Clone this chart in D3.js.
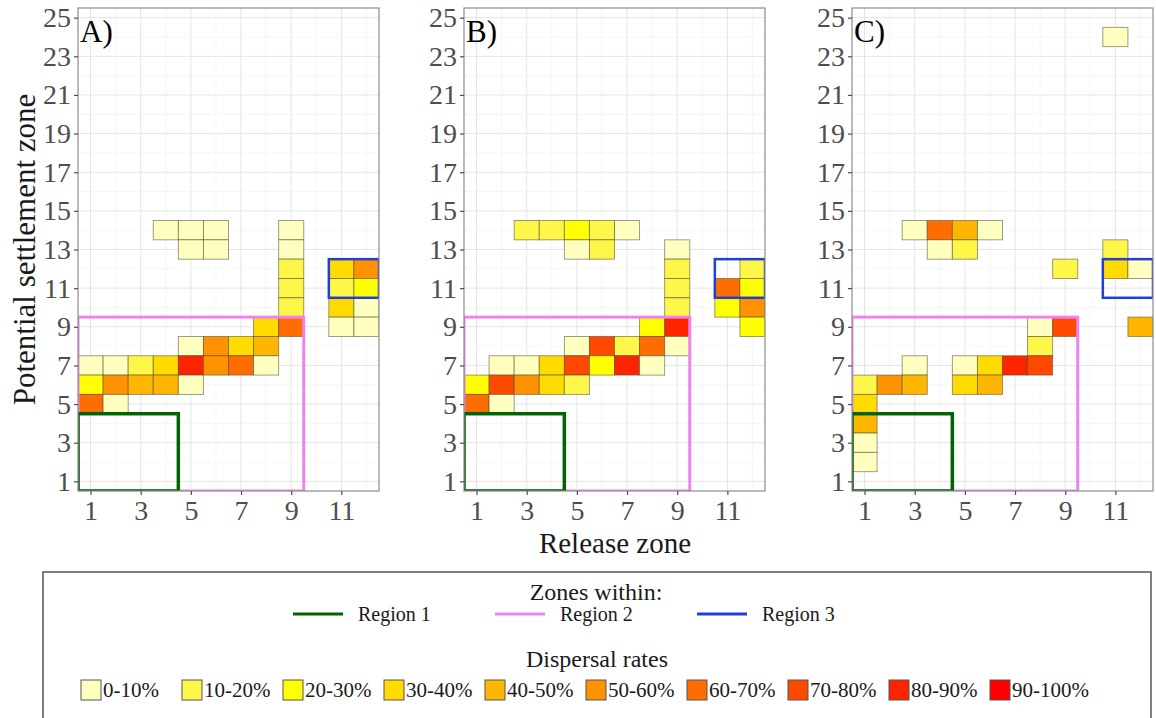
<!DOCTYPE html>
<html lang="en">
<head>
<meta charset="utf-8">
<title>Dispersal rates</title>
<script src="https://d3js.org/d3.v7.min.js"></script>
<style>
  body {margin:0; background:#fff;}
  text {font-family:"Liberation Serif","Times New Roman",serif;}
</style>
</head>
<body>
<svg width="1156" height="718"></svg>
<script>

// [release zone, settlement zone, rate class] - class 0 = 0-10% ... 9 = 90-100%
var cellsA = [
  [4,14,0],[5,14,0],[6,14,0],[9,14,0],
  [5,13,0],[6,13,0],[9,13,0],
  [9,12,1],[9,11,1],[9,10,1],
  [8,9,3],[9,9,6],
  [5,8,0],[6,8,5],[7,8,3],[8,8,4],
  [1,7,0],[2,7,0],[3,7,1],[4,7,3],[5,7,8],[6,7,5],[7,7,6],[8,7,0],
  [1,6,2],[2,6,5],[3,6,4],[4,6,4],[5,6,0],
  [1,5,6],[2,5,0],
  [11,12,3],[12,12,5],[11,11,1],[12,11,2],[11,10,3],[12,10,0],[11,9,0],[12,9,0]
]
var cellsB = [
  [3,14,1],[4,14,1],[5,14,2],[6,14,1],[7,14,0],
  [5,13,0],[6,13,1],[9,13,0],
  [9,12,1],[9,11,1],[9,10,1],
  [8,9,2],[9,9,8],
  [5,8,0],[6,8,7],[7,8,1],[8,8,6],[9,8,0],
  [2,7,0],[3,7,0],[4,7,3],[5,7,7],[6,7,2],[7,7,8],[8,7,0],
  [1,6,2],[2,6,7],[3,6,5],[4,6,3],[5,6,1],
  [1,5,6],[2,5,0],
  [12,12,1],[11,11,6],[12,11,2],[11,10,2],[12,10,5],[12,9,2]
]
var cellsC = [
  [11,24,0],
  [3,14,0],[4,14,6],[5,14,4],[6,14,0],
  [4,13,0],[5,13,1],[11,13,1],
  [9,12,1],[11,12,3],[12,12,0],
  [8,9,0],[9,9,7],[12,9,4],
  [8,8,1],
  [3,7,0],[5,7,0],[6,7,3],[7,7,8],[8,7,7],
  [1,6,1],[2,6,5],[3,6,4],[5,6,3],[6,6,4],
  [1,5,3],[1,4,4],[1,3,0],[1,2,0]
]
var panelLabels = ["A)","B)","C)"]

var rateLabels = ["0-10%","10-20%","20-30%","30-40%","40-50%","50-60%","60-70%","70-80%","80-90%","90-100%"]
var rateColors = ["#FFFFBF","#FFF64A","#FFFF00","#FFDB00","#FFB600","#FF9200","#FF6D00","#FF4900","#FF2400","#FF0000"]

// zone blocks: [x0, x1, y0, y1]
var regionNames = ["Region 1","Region 2","Region 3"]
var regionColors = ["#006400","#EE82EE","#1f3fd6"]
var regionBounds = [[0.5,4.5,0.5,4.5],[0.5,9.5,0.5,9.5],[10.5,12.5,10.5,12.5]]
var regionWidths = [3.5,3,2.5]

var xTicks = [1,3,5,7,9,11]
var yTicks = [1,3,5,7,9,11,13,15,17,19,21,23,25]

var svg = d3.select("svg")
var top_ = 8, pw = 301, ph = 483
var panelLeft = [78,464,852]

var x = d3.scaleLinear().domain([0.5,12.5]).range([0,pw])
var y = d3.scaleLinear().domain([0.5,25.5]).range([ph,0])

function drawPanel(i, cells){
  var g = svg.append("g").attr("transform","translate("+panelLeft[i]+","+top_+")")
  g.append("rect").attr("width",pw).attr("height",ph).attr("fill","#fff")

  // grid
  g.selectAll(".vg").data(d3.range(1,13)).enter().append("line")
    .attr("x1",d=>x(d)).attr("x2",d=>x(d)).attr("y1",0).attr("y2",ph)
    .attr("stroke",d=>d%2?"#e4e4e4":"#f0f0f0").attr("stroke-width",d=>d%2?1:0.6)
  g.selectAll(".hg").data(d3.range(1,26)).enter().append("line")
    .attr("y1",d=>y(d)).attr("y2",d=>y(d)).attr("x1",0).attr("x2",pw)
    .attr("stroke",d=>d%2?"#e4e4e4":"#f0f0f0").attr("stroke-width",d=>d%2?1:0.6)

  var clip = "clip"+i
  g.append("clipPath").attr("id",clip).append("rect").attr("width",pw).attr("height",ph)
  var inner = g.append("g").attr("clip-path","url(#"+clip+")")

  inner.selectAll("rect.cell").data(cells).enter().append("rect")
    .attr("class","cell")
    .attr("x",d=>x(d[0]-0.5)).attr("y",d=>y(d[1]+0.5))
    .attr("width",x(1.5)-x(0.5)).attr("height",y(0.5)-y(1.5))
    .attr("fill",d=>rateColors[d[2]])
    .attr("stroke","#4a4a30").attr("stroke-opacity",0.6).attr("stroke-width",0.9)

  // region outlines, region 2 under region 1
  ;[1,0,2].forEach(function(r){
    var b = regionBounds[r]
    inner.append("rect")
      .attr("x",x(b[0])).attr("y",y(b[3]))
      .attr("width",x(b[1])-x(b[0])).attr("height",y(b[2])-y(b[3]))
      .attr("fill","none").attr("stroke",regionColors[r]).attr("stroke-width",regionWidths[r])
  })

  g.append("rect").attr("width",pw).attr("height",ph).attr("fill","none")
    .attr("stroke","#8c8c8c").attr("stroke-width",1.2)

  var ya = g.append("g").call(d3.axisLeft(y).tickValues(yTicks).tickSize(4).tickPadding(3))
  var xa = g.append("g").attr("transform","translate(0,"+ph+")")
    .call(d3.axisBottom(x).tickValues(xTicks).tickSize(4).tickPadding(5))
  ;[ya,xa].forEach(function(a){
    a.select(".domain").remove()
    a.selectAll("line").attr("stroke","#4d4d4d").attr("stroke-width",1.2)
    a.selectAll("text").attr("fill","#4d4d4d").style("font-size","28px")
      .style("font-family","'Liberation Serif',serif")
  })

  g.append("text").attr("x",2).attr("y",34).text(panelLabels[i])
    .style("font-size","31px").attr("fill","#000")
}

drawPanel(0,cellsA)
drawPanel(1,cellsB)
drawPanel(2,cellsC)

svg.append("text").attr("x",615).attr("y",553).attr("text-anchor","middle")
  .style("font-size","29px").attr("fill","#1a1a1a").text("Release zone")
svg.append("text").attr("transform","translate(35,"+(top_+ph/2)+") rotate(-90)")
  .attr("text-anchor","middle").style("font-size","31px").attr("fill","#1a1a1a")
  .text("Potential settlement zone")

// legend
var lg = svg.append("g")
lg.append("rect").attr("x",43).attr("y",572).attr("width",1108).attr("height",160)
  .attr("fill","#fff").attr("stroke","#555").attr("stroke-width",1.5)

lg.append("text").attr("x",596).attr("y",600).attr("text-anchor","middle")
  .style("font-size","24px").attr("fill","#1a1a1a").text("Zones within:")

var regX = d3.scaleLinear().domain([0,1]).range([293,495])
regionNames.forEach(function(n,i){
  lg.append("line").attr("x1",regX(i)).attr("x2",regX(i)+50).attr("y1",614).attr("y2",614)
    .attr("stroke",regionColors[i]).attr("stroke-width",3)
  lg.append("text").attr("x",regX(i)+65).attr("y",621)
    .style("font-size","20px").attr("fill","#1a1a1a").text(n)
})

lg.append("text").attr("x",597).attr("y",667).attr("text-anchor","middle")
  .style("font-size","24px").attr("fill","#1a1a1a").text("Dispersal rates")

var keyX = d3.scaleLinear().domain([0,1]).range([81,182])
rateLabels.forEach(function(l,i){
  lg.append("rect").attr("x",keyX(i)).attr("y",680).attr("width",20).attr("height",20)
    .attr("fill",rateColors[i]).attr("stroke","#555").attr("stroke-width",1)
  lg.append("text").attr("x",keyX(i)+22).attr("y",697)
    .style("font-size","21px").attr("fill","#1a1a1a").text(l)
})

</script>
</body>
</html>
